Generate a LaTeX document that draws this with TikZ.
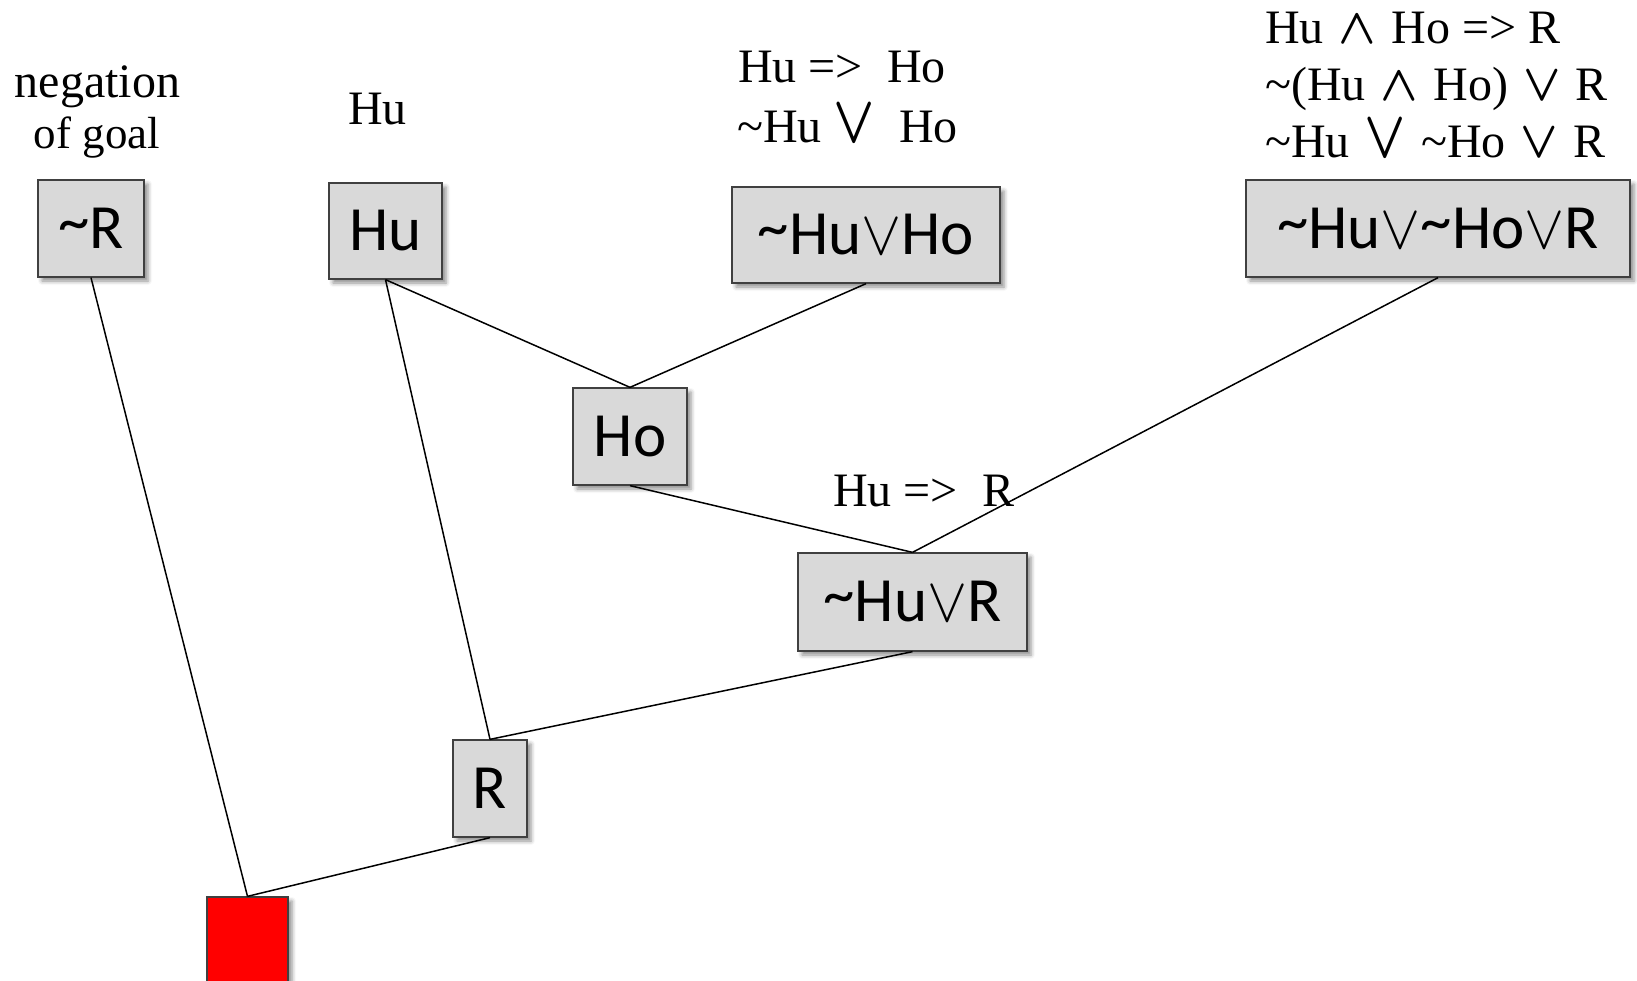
\documentclass[tikz,border=0pt]{standalone}
\usepackage{fontspec}
\setmainfont{Liberation Serif}
\newfontfamily\boxfont{Carlito}
\usetikzlibrary{shadows.blur}
\definecolor{boxgray}{HTML}{D9D9D9}
\definecolor{boxline}{HTML}{404040}
\newcommand{\tld}{\textasciitilde}
\newcommand{\btld}{\raisebox{6pt}{\textasciitilde}}
% logical connectives, scaled from the 10pt math font
\newcommand{\bigor}{\scalebox{6.0}[6.3]{\fontsize{10}{12}\selectfont$\vee$}}
\newcommand{\txtor}{\scalebox{4.9}[5.2]{\fontsize{10}{12}\selectfont\boldmath$\vee$}}
\newcommand{\txtand}{\scalebox{4.9}[5.0]{\fontsize{10}{12}\selectfont\boldmath$\wedge$}}
\newcommand{\tallor}{\scalebox{5.4}[6.7]{\fontsize{10}{12}\selectfont\boldmath$\vee$}}
% slightly wider word gap around connectives
\newcommand{\gap}{\hspace{15pt}}
\tikzset{
  clause/.style={draw=boxline, line width=1.3pt, fill=boxgray, inner sep=0pt,
    font=\boxfont\fontsize{63}{70}\selectfont,
    blur shadow={shadow xshift=4pt, shadow yshift=-4pt, shadow blur radius=4pt, shadow opacity=45}},
  emptybox/.style={draw=boxline, line width=1.3pt, fill=red, inner sep=0pt,
    blur shadow={shadow xshift=4pt, shadow yshift=-4pt, shadow blur radius=4pt, shadow opacity=45}},
  note/.style={inner sep=0pt, anchor=base west, align=left,
    font=\fontsize{48}{57}\selectfont},
  link/.style={line width=1.5pt, black}
}
\begin{document}
\begin{tikzpicture}[x=1pt, y=-1pt]
\clip (0,0) rectangle (1637,980);
\useasboundingbox (0,0) rectangle (1637,980);

% clauses
\node[clause, minimum width=106pt, minimum height=97pt] (notR) at (91,228.5) {\btld R};
\node[clause, minimum width=113pt, minimum height=96pt] (hu) at (385.5,231) {Hu};
\node[clause, minimum width=268pt, minimum height=96pt] (huho) at (866,235) {\btld Hu\bigor Ho};
\node[clause, minimum width=384pt, minimum height=97pt] (huhor) at (1438,228.5) {\btld Hu\bigor\btld Ho\bigor R};
\node[clause, minimum width=114pt, minimum height=97pt] (ho) at (630,436.5) {Ho};
\node[clause, minimum width=229pt, minimum height=98pt] (hur) at (912.5,602) {\btld Hu\bigor R};
\node[clause, minimum width=74pt, minimum height=97pt] (r) at (490,788.5) {R};
\node[emptybox, minimum width=81pt, minimum height=97pt] (nil) at (247.5,945.5) {};

% resolution links
\draw[link] (hu.south) -- (ho.north);
\draw[link] (huho.south) -- (ho.north);
\draw[link] (ho.south) -- (hur.north);
\draw[link] (huhor.south) -- (hur.north);
\draw[link] (hu.south) -- (r.north);
\draw[link] (hur.south) -- (r.north);
\draw[link] (notR.south) -- (nil.north);
\draw[link] (r.south) -- (nil.north);

% annotations
\node[note, anchor=base] (lbl1) at (97.5,97) {negation};
\node[note, anchor=base, font=\fontsize{45}{54}\selectfont] (lbl1b) at (97,148) {of goal};
\node[note] (lbl2) at (348,124) {Hu};
\node[note] (lbl3) at (738,82) {Hu =>\ \ Ho};
\node[note] (lbl3b) at (737,142) {\tld Hu \tallor\ \ Ho};
\node[note] (lbl4) at (1265,43) {Hu\gap\txtand\gap Ho => R};
\node[note] (lbl4b) at (1265,100) {\tld(Hu\gap\txtand\gap Ho)\gap\txtor\gap R};
\node[note] (lbl4c) at (1265,157) {\tld Hu\gap\tallor\gap\tld Ho\gap\txtor\gap R};
\node[note] (lbl5) at (833,506) {Hu =>\ \ R};
\end{tikzpicture}
\end{document}
